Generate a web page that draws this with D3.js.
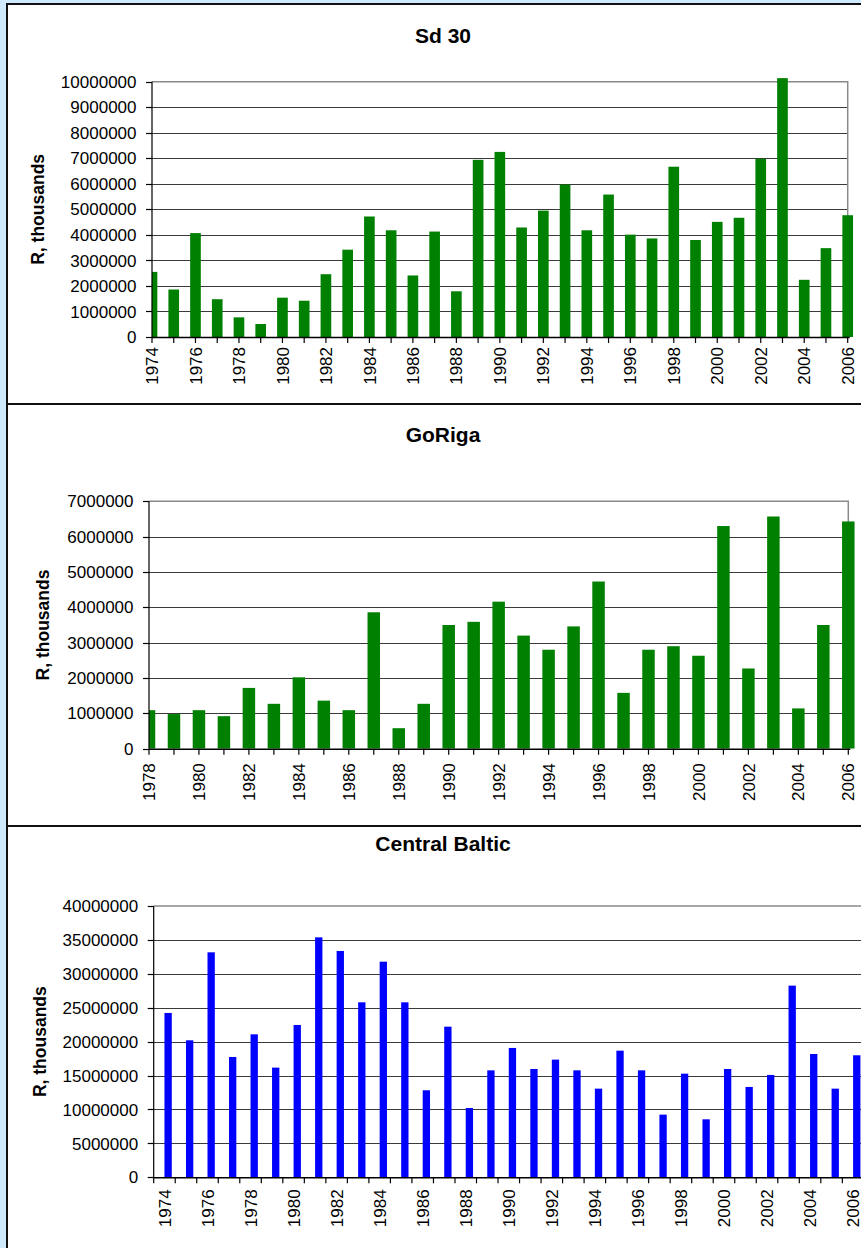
<!DOCTYPE html>
<html>
<head>
<meta charset="utf-8">
<script src="https://cdn.jsdelivr.net/npm/d3@7"></script>
<style>
  html, body { margin: 0; padding: 0; background: #cfe9fd; }
  svg { display: block; }
  text { font-family: Arial, "Liberation Sans", sans-serif; fill: #000; }
</style>
</head>
<body>
<svg id="chart" width="861" height="1248"></svg>
<script>
// ---- Recruitment, R (thousands) ----
const sd30Years = [1974, 1975, 1976, 1977, 1978, 1979, 1980, 1981, 1982, 1983, 1984,
  1985, 1986, 1987, 1988, 1989, 1990, 1991, 1992, 1993, 1994, 1995, 1996, 1997,
  1998, 1999, 2000, 2001, 2002, 2003, 2004, 2005, 2006];
const sd30Values = [2550000, 1860000, 4070000, 1480000, 770000, 510000, 1540000,
  1420000, 2460000, 3420000, 4720000, 4180000, 2410000, 4130000, 1790000, 6940000,
  7250000, 4290000, 4950000, 5970000, 4180000, 5580000, 4010000, 3860000, 6670000,
  3800000, 4510000, 4670000, 6980000, 10140000, 2240000, 3480000, 4770000];
const sd30Ticks = [0, 1000000, 2000000, 3000000, 4000000, 5000000, 6000000,
  7000000, 8000000, 9000000, 10000000];

const rigaYears = [1978, 1979, 1980, 1981, 1982, 1983, 1984, 1985, 1986, 1987,
  1988, 1989, 1990, 1991, 1992, 1993, 1994, 1995, 1996, 1997, 1998, 1999, 2000,
  2001, 2002, 2003, 2004, 2005, 2006];
const rigaValues = [1090000, 980000, 1090000, 920000, 1720000, 1270000, 2020000,
  1360000, 1090000, 3860000, 580000, 1270000, 3500000, 3590000, 4160000, 3200000,
  2800000, 3460000, 4730000, 1580000, 2800000, 2900000, 2630000, 6300000, 2270000,
  6570000, 1140000, 3500000, 6430000];
const rigaTicks = [0, 1000000, 2000000, 3000000, 4000000, 5000000, 6000000, 7000000];

const balticYears = [1974, 1975, 1976, 1977, 1978, 1979, 1980, 1981, 1982, 1983,
  1984, 1985, 1986, 1987, 1988, 1989, 1990, 1991, 1992, 1993, 1994, 1995, 1996,
  1997, 1998, 1999, 2000, 2001, 2002, 2003, 2004, 2005, 2006];
const balticValues = [24230000, 20200000, 33170000, 17740000, 21080000, 16170000,
  22460000, 35380000, 33370000, 25800000, 31790000, 25800000, 12830000, 22210000,
  10220000, 15770000, 19070000, 15970000, 17350000, 15770000, 13070000, 18670000,
  15770000, 9240000, 15280000, 8550000, 15970000, 13320000, 15090000, 28260000,
  18180000, 13070000, 17990000];
const balticTicks = [0, 5000000, 10000000, 15000000, 20000000, 25000000,
  30000000, 35000000, 40000000];

const yAxisTitle = "R, thousands";

const svg = d3.select("#chart");
const fmt = d3.format("d");

// panel frames (white boxes with black borders, running past the right edge)
const panels = [
  { y0: 4, y1: 404 },
  { y0: 404, y1: 826 },
  { y0: 826, y1: 1262 }
];
svg.append("g").selectAll("rect").data(panels).join("rect")
  .attr("x", 7).attr("y", d => d.y0)
  .attr("width", 900).attr("height", d => d.y1 - d.y0)
  .attr("fill", "#fff").attr("stroke", "#111").attr("stroke-width", 2);

function drawPanel(opt) {
  const g = svg.append("g");
  const { left, right, top, bottom } = opt;

  const y = d3.scaleLinear().domain([0, opt.yMax]).range([bottom, top]);

  // category positions: ticks on categories (point) or between categories (band)
  let xCenter, tickXs;
  if (opt.mode === "point") {
    const x = d3.scalePoint().domain(opt.years).range([left, right]);
    xCenter = d => x(d);
    tickXs = opt.years.map(d => x(d));
    opt.step = x.step();
  } else {
    const x = d3.scaleBand().domain(opt.years)
      .range([left, left + opt.years.length * opt.step]).padding(0);
    xCenter = d => x(d) + x.bandwidth() / 2;
    tickXs = opt.years.map(d => x(d)).concat([x.range()[1]]);
  }

  // horizontal gridlines
  g.append("g").selectAll("line")
    .data(opt.ticks.filter(t => t > 0 && t < opt.yMax)).join("line")
    .attr("x1", left).attr("x2", opt.gridRight)
    .attr("y1", d => Math.round(y(d)) + 0.5).attr("y2", d => Math.round(y(d)) + 0.5)
    .attr("stroke", "#3a3a3a").attr("stroke-width", 1.2);

  // plot-area frame (top and right edges)
  g.append("path")
    .attr("d", `M${left},${y(opt.yMax)}H${opt.frameRight}V${bottom}`)
    .attr("fill", "none").attr("stroke", "#8a8a8a").attr("stroke-width", 1.5);

  // bars
  const clipId = "clip" + opt.id;
  g.append("clipPath").attr("id", clipId).append("rect")
    .attr("x", left).attr("y", 0).attr("width", 1000).attr("height", bottom);
  const bw = opt.step * opt.barFrac;
  g.append("g").attr("clip-path", `url(#${clipId})`)
    .selectAll("rect").data(opt.years.map((yr, i) => ({ yr, v: opt.values[i] })))
    .join("rect")
    .attr("x", d => xCenter(d.yr) - bw / 2 + opt.barShift * bw)
    .attr("width", bw)
    .attr("y", d => y(d.v))
    .attr("height", d => bottom - y(d.v))
    .attr("fill", opt.color);

  // y axis
  const ya = g.append("g");
  ya.append("line").attr("x1", left).attr("x2", left)
    .attr("y1", top).attr("y2", bottom).attr("stroke", "#000").attr("stroke-width", 1.2);
  ya.selectAll("line.tk").data(opt.ticks).join("line").attr("class", "tk")
    .attr("x1", left - 6).attr("x2", left)
    .attr("y1", d => Math.round(y(d)) + 0.5).attr("y2", d => Math.round(y(d)) + 0.5)
    .attr("stroke", "#000").attr("stroke-width", 1.2);
  ya.selectAll("text").data(opt.ticks).join("text")
    .attr("x", left - 15.5).attr("y", d => y(d)).attr("dy", "0.36em")
    .attr("text-anchor", "end").attr("font-size", 17)
    .text(d => fmt(d));

  // x axis
  const xa = g.append("g");
  xa.append("line").attr("x1", left).attr("x2", opt.frameRight + 2)
    .attr("y1", bottom + 0.5).attr("y2", bottom + 0.5)
    .attr("stroke", "#000").attr("stroke-width", 1.4);
  xa.selectAll("line.tk").data(tickXs).join("line").attr("class", "tk")
    .attr("x1", d => d).attr("x2", d => d)
    .attr("y1", bottom).attr("y2", bottom + 6)
    .attr("stroke", "#000").attr("stroke-width", 1.2);
  xa.selectAll("text").data(opt.years.filter((d, i) => i % 2 === 0)).join("text")
    .attr("transform", d => `translate(${xCenter(d)},${bottom + opt.labelGap}) rotate(-90)`)
    .attr("dy", "0.36em").attr("text-anchor", "end").attr("font-size", 17)
    .text(d => d);

  // titles
  g.append("text").attr("x", 443).attr("y", opt.titleY)
    .attr("text-anchor", "middle").attr("font-size", 21).attr("font-weight", "bold")
    .text(opt.title);
  g.append("text")
    .attr("transform", `translate(${opt.yTitleX},${(top + bottom) / 2}) rotate(-90)`)
    .attr("text-anchor", "middle").attr("font-size", 17.5).attr("font-weight", "bold")
    .text(yAxisTitle);
}

drawPanel({
  id: 1, title: "Sd 30", titleY: 43, yTitleX: 44,
  years: sd30Years, values: sd30Values, ticks: sd30Ticks, yMax: 10000000,
  mode: "point", left: 152, right: 847.7, top: 81.7, bottom: 337,
  gridRight: 847, frameRight: 847.7, barFrac: 0.49, barShift: 0,
  labelGap: 10, color: "#008000"
});

drawPanel({
  id: 2, title: "GoRiga", titleY: 441.5, yTitleX: 49,
  years: rigaYears, values: rigaValues, ticks: rigaTicks, yMax: 7000000,
  mode: "point", left: 149, right: 848.3, top: 501.3, bottom: 748.7,
  gridRight: 848, frameRight: 848.3, barFrac: 0.5, barShift: 0,
  labelGap: 14.5, color: "#008000"
});

drawPanel({
  id: 3, title: "Central Baltic", titleY: 850.5, yTitleX: 46,
  years: balticYears, values: balticValues, ticks: balticTicks, yMax: 40000000,
  mode: "band", step: 21.52, left: 153.7, top: 906, bottom: 1177.3,
  gridRight: 880, frameRight: 865, barFrac: 0.34, barShift: 0.5,
  labelGap: 12, color: "#0000ff"
});
</script>
</body>
</html>
